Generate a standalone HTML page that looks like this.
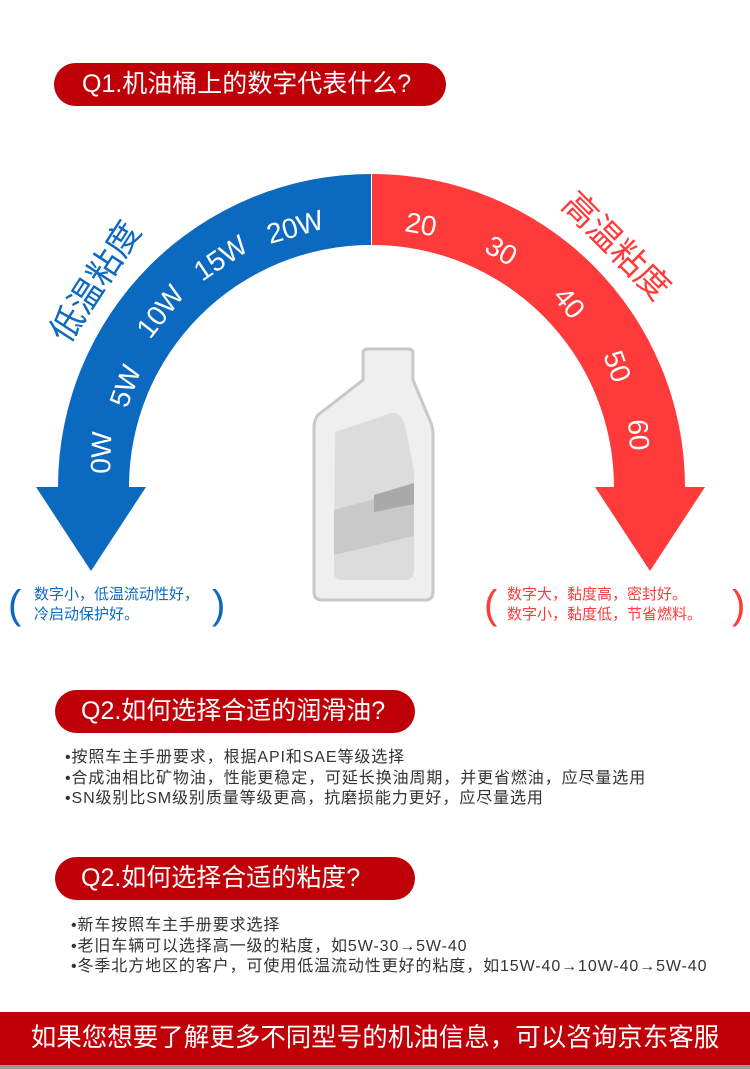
<!DOCTYPE html>
<html><head><meta charset="utf-8"><style>
body{margin:0;width:750px;height:1069px;background:#fff;position:relative;overflow:hidden;font-family:"Liberation Sans","Noto Sans CJK SC",sans-serif}
.pill{position:absolute;background:#c00008;border-radius:22px;color:#fff;font-size:25px;line-height:43px;white-space:nowrap}
.list{position:absolute;font-size:16px;color:#333;line-height:20.5px;white-space:nowrap;letter-spacing:0.9px}
.foot{position:absolute;left:0;top:1012px;width:750px;height:53px;background:#c00008;color:#fff;font-size:25.5px;line-height:53px;text-align:center;letter-spacing:0px}
</style></head><body>
<div class="pill" style="left:54px;top:63px;width:392px;height:43px;"><span style="position:absolute;left:28px">Q1.机油桶上的数字代表什么?</span></div>

<svg width="750" height="640" style="position:absolute;left:0;top:0" font-family="Liberation Sans, Noto Sans CJK SC, sans-serif">
<path d="M58 487 A313 313 0 0 1 371 174 L371 245 A242 242 0 0 0 129 487 Z" fill="#0b69bf"/>
<path d="M372 174 A313 313 0 0 1 685 487 L614 487 A242 242 0 0 0 372 245 Z" fill="#fe3a3a"/>
<polygon points="36,487 146,487 91,571" fill="#0b69bf"/>
<polygon points="595,487 705,487 650,571" fill="#fe3a3a"/>
<g fill="#fff" font-size="28">
<text transform="translate(110,474) rotate(-88)">0W</text>
<text transform="translate(127,409) rotate(-70)">5W</text>
<text transform="translate(150,340) rotate(-52)">10W</text>
<text transform="translate(202,282) rotate(-34)">15W</text>
<text transform="translate(270,244) rotate(-16)">20W</text>
<text transform="translate(404,231) rotate(10)">20</text>
<text transform="translate(483,251) rotate(30)">30</text>
<text transform="translate(552,297) rotate(50)">40</text>
<text transform="translate(603,355) rotate(70)">50</text>
<text transform="translate(628,420) rotate(86)">60</text>
</g>
<text transform="translate(68,345) rotate(-57)" font-size="34" fill="#0b69bf">低温粘度</text>
<text transform="translate(560,206) rotate(45)" font-size="34" fill="#fe3a3a">高温粘度</text>
<!-- bottle -->
<path d="M368 349 L408 349 Q413 349 413 354 L413 380 L431 423 Q433 428 433 435 L433 592 Q433 600 425 600 L322 600 Q314 600 314 592 L314 427 Q314 420 318 415 L363 380 L363 354 Q363 349 368 349 Z" fill="#efefef" stroke="#c8c8c8" stroke-width="3"/>
<path d="M335 432 L392 413 Q400 412 405 425 L414 470 L414 570 Q414 580 405 580 L342 580 Q334 580 334 572 Z" fill="#dcdcdc"/>
<path d="M334 510 L414 488 L414 536 L334 555 Z" fill="#c9c9c9"/>
<path d="M374 495 L414 483 L414 504 L374 512 Z" fill="#a9a9a9"/>
<g font-size="15">
<text x="8" y="618" font-size="40" fill="#0b69bf">(</text>
<text x="34" y="599" fill="#0b69bf">数字小，低温流动性好，</text>
<text x="34" y="619" fill="#0b69bf">冷启动保护好。</text>
<text x="212" y="618" font-size="40" fill="#0b69bf">)</text>
<text x="484" y="618" font-size="40" fill="#fe3a3a">(</text>
<text x="507" y="599" fill="#fe3a3a">数字大，黏度高，密封好。</text>
<text x="507" y="619" fill="#fe3a3a">数字小，黏度低，节省燃料。</text>
<text x="732" y="618" font-size="40" fill="#fe3a3a">)</text>
</g>
</svg>

<div class="pill" style="left:55px;top:690px;width:360px;height:43px;"><span style="position:absolute;left:26px">Q2.如何选择合适的润滑油?</span></div>
<div class="list" style="left:65px;top:748px">•按照车主手册要求，根据API和SAE等级选择<br>•合成油相比矿物油，性能更稳定，可延长换油周期，并更省燃油，应尽量选用<br>•SN级别比SM级别质量等级更高，抗磨损能力更好，应尽量选用</div>

<div class="pill" style="left:55px;top:857px;width:360px;height:43px;"><span style="position:absolute;left:26px">Q2.如何选择合适的粘度?</span></div>
<div class="list" style="left:71px;top:916px">•新车按照车主手册要求选择<br>•老旧车辆可以选择高一级的粘度，如5W-30→5W-40<br>•冬季北方地区的客户，可使用低温流动性更好的粘度，如15W-40→10W-40→5W-40</div>

<div class="foot">如果您想要了解更多不同型号的机油信息，可以咨询京东客服</div>
<div style="position:absolute;left:0;top:1065px;width:750px;height:4px;background:#999"></div>
</body></html>
